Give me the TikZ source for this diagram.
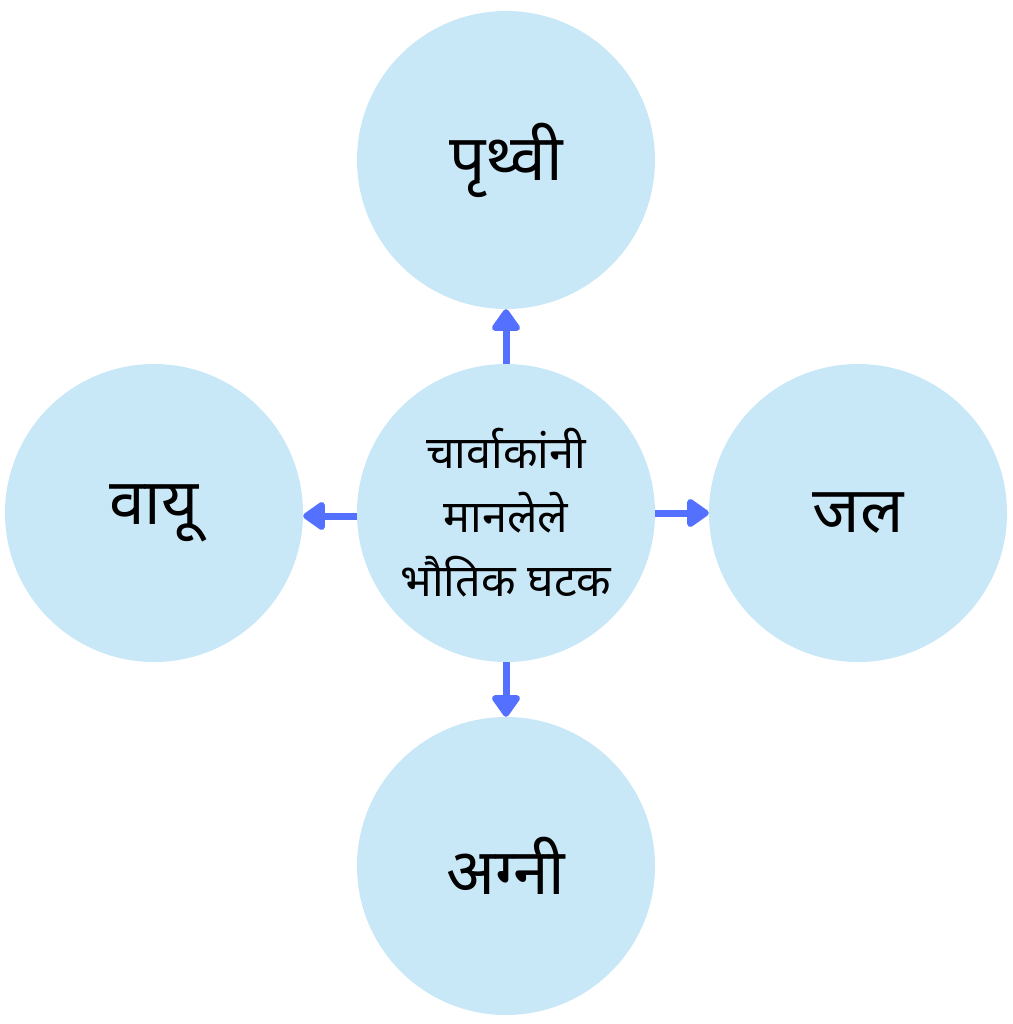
\documentclass[tikz,border=0pt]{standalone}
\usepackage{fontspec}
\setmainfont[Script=Devanagari]{Noto Sans}
\usetikzlibrary{arrows.meta}
\definecolor{circfill}{HTML}{C8E8F8}
\definecolor{arrblue}{HTML}{5470FF}
\begin{document}
\begin{tikzpicture}[x=1pt,y=-1pt,
  circ/.style={circle,fill=circfill,minimum size=298pt,inner sep=0pt,align=center},
  big/.style={font=\fontsize{64}{70}\selectfont},
  mid/.style={font=\fontsize{45}{64}\selectfont},
  conn/.style={draw=arrblue,line width=7pt,-{Triangle[round,length=24pt,width=32pt]},shorten >=0pt}]
\useasboundingbox (0,0) rectangle (1012,1024);
\node[circ,big] (t) at (506,160) {पृथ्वी};
\node[circ,big] (l) at (154,513) {वायू};
\node[circ,big] (r) at (858,513) {जल};
\node[circ,big] (b) at (506,866) {अग्नी};
\node[circ,mid] (c) at (506,513) {चार्वाकांनी\\मानलेले\\भौतिक घटक};
\draw[conn] (c.north) -- (t.south);
\draw[conn] (c.south) -- (b.north);
\draw[conn] ([yshift=-3pt]c.west) -- ([yshift=-3pt]l.east);
\draw[conn] (c.east) -- (r.west);
\end{tikzpicture}
\end{document}
